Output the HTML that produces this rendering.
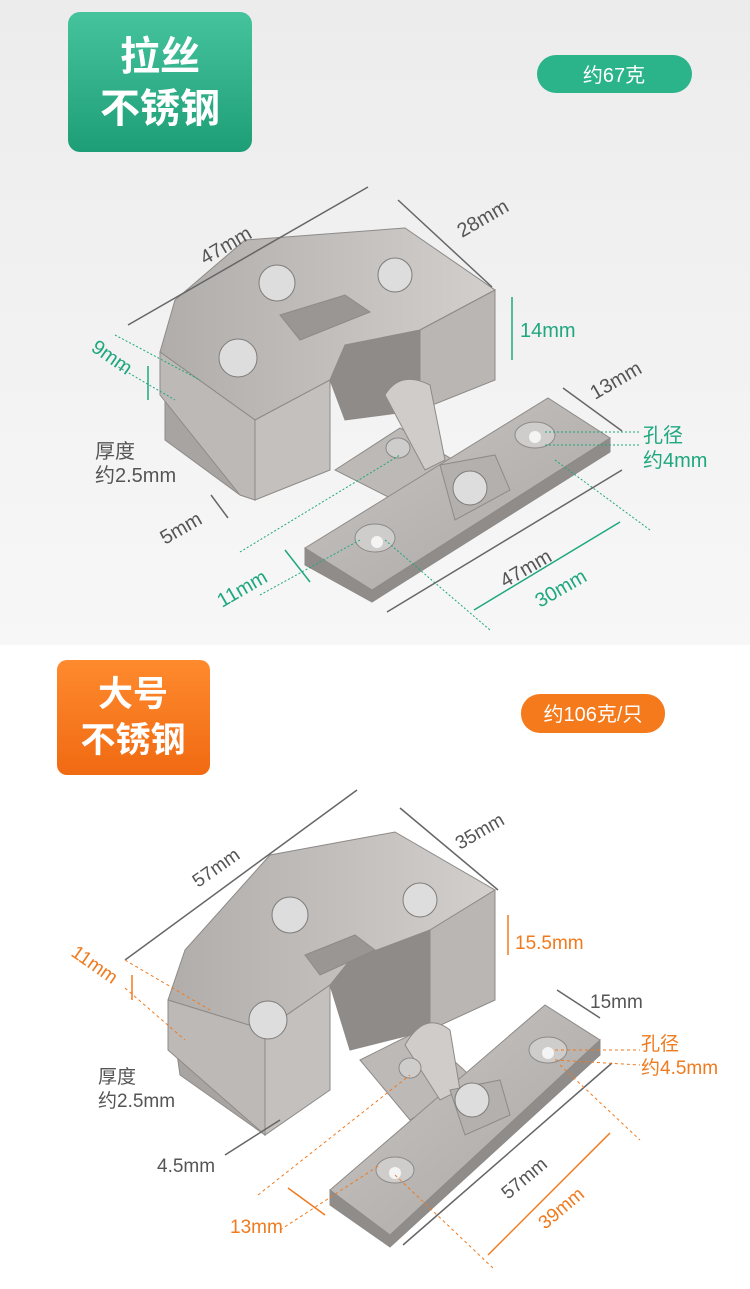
<!DOCTYPE html>
<html><head><meta charset="utf-8"><style>
body{margin:0;width:750px;height:1289px;overflow:hidden;background:#fff;font-family:"Liberation Sans","Noto Sans CJK SC",sans-serif;}
svg{position:absolute;left:0;top:0}
</style></head><body>
<svg width="750" height="1289" viewBox="0 0 750 1289" xmlns="http://www.w3.org/2000/svg" font-family="Liberation Sans, Noto Sans CJK SC, sans-serif">
<defs>
<linearGradient id="bg1" x1="0" y1="0" x2="0" y2="1"><stop offset="0" stop-color="#ececec"/><stop offset="1" stop-color="#f7f7f7"/></linearGradient>
<linearGradient id="gb" x1="0" y1="0" x2="0" y2="1"><stop offset="0" stop-color="#45c39d"/><stop offset="1" stop-color="#1e9e76"/></linearGradient>
<linearGradient id="ob" x1="0" y1="0" x2="0" y2="1"><stop offset="0" stop-color="#ff8a2e"/><stop offset="1" stop-color="#f06a12"/></linearGradient>
<linearGradient id="met" x1="0" y1="0" x2="1" y2="1"><stop offset="0" stop-color="#c9c6c4"/><stop offset="1" stop-color="#a9a6a4"/></linearGradient>
<linearGradient id="met2" x1="0" y1="0" x2="1" y2="0"><stop offset="0" stop-color="#b0adab"/><stop offset="1" stop-color="#d2cfcd"/></linearGradient>
</defs>
<rect x="0" y="0" width="750" height="645" fill="url(#bg1)"/>
<rect x="68" y="12" width="184" height="140" rx="12" fill="url(#gb)"/>
<text x="160" y="70" font-size="40" font-weight="bold" fill="#fff" text-anchor="middle">拉丝</text>
<text x="160" y="122" font-size="40" font-weight="bold" fill="#fff" text-anchor="middle">不锈钢</text>
<rect x="537" y="55" width="155" height="38" rx="19" fill="#2bb38a"/>
<text x="614" y="82" font-size="20" fill="#fff" text-anchor="middle">约67克</text>
<rect x="57" y="660" width="153" height="115" rx="10" fill="url(#ob)"/>
<text x="133" y="706" font-size="35" font-weight="bold" fill="#fff" text-anchor="middle">大号</text>
<text x="133" y="752" font-size="35" font-weight="bold" fill="#fff" text-anchor="middle">不锈钢</text>
<rect x="521" y="694" width="144" height="39" rx="19" fill="#f47a1c"/>
<text x="593" y="721" font-size="20" fill="#fff" text-anchor="middle">约106克/只</text>

<!-- TOP HINGE -->
<g stroke="#8d8a88" stroke-width="1">
<polygon points="335,470 400,428 470,470 410,508" fill="#bcb9b7"/>
<polygon points="305,548 305,565 372,602 610,452 610,438 372,590" fill="#8f8c8a"/>
<polygon points="305,548 548,398 610,438 372,590" fill="url(#met)"/>
<polygon points="165,395 175,380 255,440 255,500 240,495 165,440" fill="#a7a4a2"/>
<polygon points="160,352 175,300 245,240 405,228 495,290 420,330 330,380 255,420" fill="url(#met2)"/>
<polygon points="255,420 330,380 330,470 255,500" fill="#c3c0be"/>
<polygon points="420,330 495,290 495,380 420,410" fill="#b9b6b4"/>
<polygon points="330,380 345,345 420,330 420,410 345,420" fill="#8e8b89"/>
<polygon points="160,352 255,420 255,500 240,495 160,395" fill="#bcb9b7"/>
<polygon points="280,315 345,295 370,312 300,340" fill="#999694"/>
<path d="M385,395 Q400,370 430,385 L445,460 L425,470 Z" fill="#cfccca"/>
<polygon points="440,465 495,455 510,490 455,520" fill="#b3b0ae"/>
</g>
<g fill="#ddd" stroke="#7f7c7a"><circle cx="277" cy="283" r="18"/><circle cx="395" cy="275" r="17"/><circle cx="238" cy="358" r="19"/><circle cx="470" cy="488" r="17"/></g>
<g fill="#cfcdcb" stroke="#8c8987"><ellipse cx="535" cy="435" rx="20" ry="13"/><ellipse cx="375" cy="538" rx="20" ry="14"/><ellipse cx="398" cy="448" rx="12" ry="10"/></g>
<g fill="#f4f4f4"><circle cx="535" cy="437" r="6"/><circle cx="377" cy="542" r="6"/></g>

<g stroke="#666" stroke-width="1.5" fill="none">
<line x1="128" y1="325" x2="368" y2="187"/><line x1="398" y1="200" x2="492" y2="287"/>
<line x1="563" y1="388" x2="622" y2="431"/><line x1="387" y1="612" x2="622" y2="470"/>
<line x1="211" y1="495" x2="228" y2="518"/>
</g>
<g stroke="#1fa77f" stroke-width="1.5" fill="none">
<line x1="512" y1="297" x2="512" y2="360"/><line x1="148" y1="366" x2="148" y2="400"/>
<line x1="474" y1="610" x2="620" y2="522"/><line x1="285" y1="550" x2="310" y2="582"/>
</g>
<g stroke="#1fa77f" stroke-width="1" stroke-dasharray="2,2" fill="none">
<line x1="115" y1="335" x2="200" y2="380"/><line x1="115" y1="365" x2="175" y2="400"/>
<line x1="545" y1="432" x2="640" y2="432"/><line x1="545" y1="445" x2="640" y2="445"/>
<line x1="240" y1="552" x2="400" y2="455"/><line x1="260" y1="595" x2="360" y2="540"/>
<line x1="385" y1="540" x2="490" y2="630"/><line x1="555" y1="460" x2="650" y2="530"/>
</g>
<g font-size="20" fill="#555">
<text transform="translate(205,265) rotate(-30)">47mm</text>
<text transform="translate(462,238) rotate(-30)">28mm</text>
<text transform="translate(595,400) rotate(-30)">13mm</text>
<text transform="translate(505,588) rotate(-30)">47mm</text>
<text transform="translate(165,545) rotate(-30)">5mm</text>
<text x="95" y="458">厚度</text><text x="95" y="482">约2.5mm</text>
</g>
<g font-size="20" fill="#1fa77f">
<text x="520" y="337">14mm</text>
<text transform="translate(90,350) rotate(35)">9mm</text>
<text transform="translate(222,608) rotate(-30)">11mm</text>
<text transform="translate(540,608) rotate(-30)">30mm</text>
<text x="643" y="442">孔径</text><text x="643" y="467">约4mm</text>
</g>

<!-- BOTTOM HINGE -->
<g stroke="#8d8a88" stroke-width="1">
<polygon points="360,1060 420,1030 475,1080 410,1120" fill="#bcb9b7"/>
<polygon points="330,1190 330,1205 390,1247 600,1055 600,1040 390,1235" fill="#8f8c8a"/>
<polygon points="330,1190 545,1005 600,1040 390,1235" fill="url(#met)"/>
<polygon points="175,1040 185,1025 265,1085 265,1135 180,1075" fill="#a7a4a2"/>
<polygon points="168,1000 185,950 270,855 395,832 495,890 430,930 330,985 265,1030" fill="url(#met2)"/>
<polygon points="265,1030 330,985 330,1090 265,1135" fill="#c3c0be"/>
<polygon points="430,930 495,890 495,1000 430,1030" fill="#b9b6b4"/>
<polygon points="330,985 350,960 430,930 430,1030 350,1050" fill="#8e8b89"/>
<polygon points="168,1000 265,1030 265,1135 168,1050" fill="#bcb9b7"/>
<polygon points="305,955 355,935 375,950 320,975" fill="#999694"/>
<path d="M405,1045 Q425,1010 450,1030 L460,1090 L440,1100 Z" fill="#cfccca"/>
<polygon points="450,1090 500,1080 510,1115 465,1135" fill="#b3b0ae"/>
</g>
<g fill="#ddd" stroke="#7f7c7a"><circle cx="290" cy="915" r="18"/><circle cx="420" cy="900" r="17"/><circle cx="268" cy="1020" r="19"/><circle cx="472" cy="1100" r="17"/></g>
<g fill="#cfcdcb" stroke="#8c8987"><ellipse cx="548" cy="1050" rx="19" ry="13"/><ellipse cx="395" cy="1170" rx="19" ry="13"/><ellipse cx="410" cy="1068" rx="11" ry="10"/></g>
<g fill="#f4f4f4"><circle cx="548" cy="1053" r="6"/><circle cx="395" cy="1173" r="6"/></g>

<g stroke="#666" stroke-width="1.5" fill="none">
<line x1="125" y1="960" x2="357" y2="790"/><line x1="400" y1="808" x2="498" y2="890"/>
<line x1="557" y1="990" x2="600" y2="1018"/><line x1="403" y1="1245" x2="612" y2="1063"/>
<line x1="225" y1="1155" x2="280" y2="1120"/>
</g>
<g stroke="#f07a1e" stroke-width="1.5" fill="none">
<line x1="508" y1="915" x2="508" y2="955"/><line x1="132" y1="975" x2="132" y2="1000"/>
<line x1="488" y1="1255" x2="610" y2="1133"/><line x1="288" y1="1188" x2="325" y2="1215"/>
</g>
<g stroke="#f07a1e" stroke-width="1" stroke-dasharray="3,3" fill="none">
<line x1="125" y1="960" x2="210" y2="1010"/><line x1="125" y1="988" x2="185" y2="1040"/>
<line x1="555" y1="1050" x2="640" y2="1050"/><line x1="555" y1="1060" x2="640" y2="1065"/>
<line x1="258" y1="1195" x2="410" y2="1075"/><line x1="280" y1="1230" x2="380" y2="1165"/>
<line x1="395" y1="1175" x2="495" y2="1270"/><line x1="560" y1="1065" x2="640" y2="1140"/>
</g>
<g font-size="19" fill="#555">
<text transform="translate(198,888) rotate(-35)">57mm</text>
<text transform="translate(460,850) rotate(-30)">35mm</text>
<text x="590" y="1008">15mm</text>
<text transform="translate(508,1200) rotate(-40)">57mm</text>
<text x="157" y="1172">4.5mm</text>
<text x="98" y="1083">厚度</text><text x="98" y="1107">约2.5mm</text>
</g>
<g font-size="19" fill="#f07a1e">
<text x="515" y="949">15.5mm</text>
<text transform="translate(70,955) rotate(35)">11mm</text>
<text x="230" y="1233">13mm</text>
<text transform="translate(545,1230) rotate(-40)">39mm</text>
<text x="641" y="1050">孔径</text><text x="641" y="1074">约4.5mm</text>
</g>
</svg>
</body></html>
